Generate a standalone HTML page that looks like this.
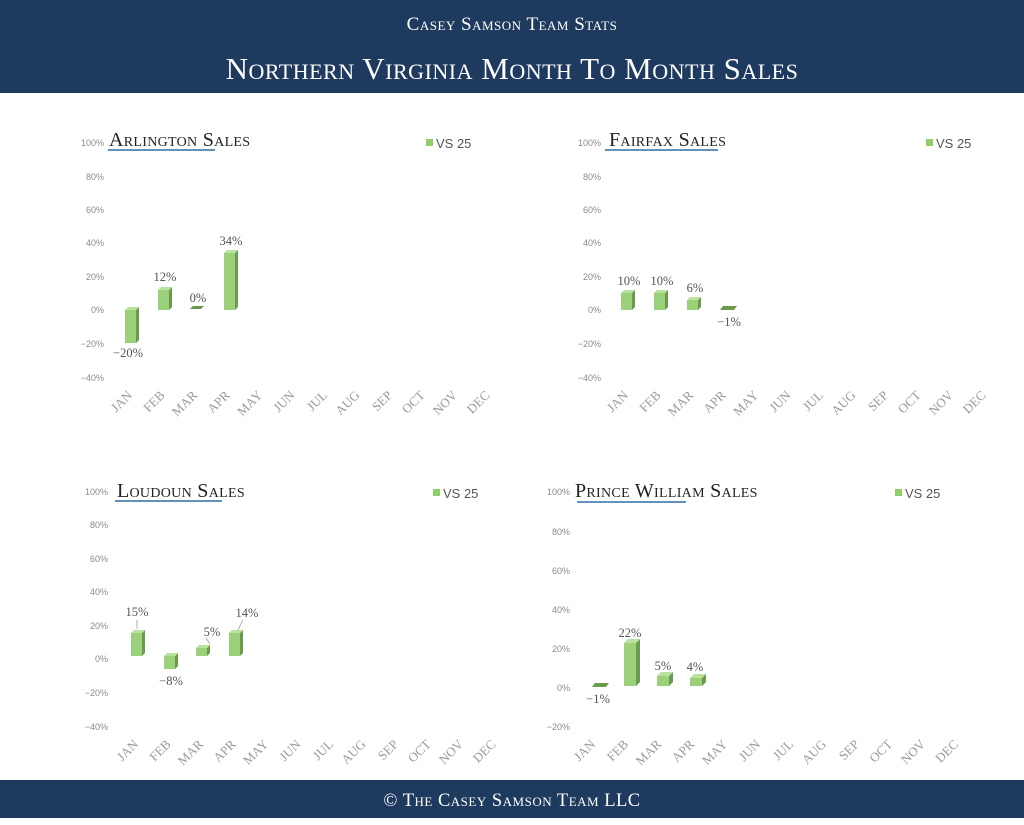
<!DOCTYPE html>
<html><head><meta charset="utf-8"><style>
html,body{margin:0;padding:0;background:#fff;}
svg{display:block;}
.t{font-family:"Liberation Serif",serif;}
.ax{font-family:"Liberation Sans",sans-serif;font-size:9px;fill:#8a8a8a;text-anchor:end;}
.m{font-family:"Liberation Serif",serif;font-size:13px;fill:#999;text-anchor:end;}
.dl{font-family:"Liberation Serif",serif;font-size:12.5px;fill:#555;text-anchor:middle;}
.ti{font-family:"Liberation Serif",serif;font-size:20px;fill:#222;font-variant:small-caps;letter-spacing:0.3px;}
.lg{font-family:"Liberation Sans",sans-serif;font-size:13px;fill:#555;}
.f{fill:#9bd17a}.s{fill:#6a9a4e}.tp{fill:#b9e29e}
</style></head><body>
<svg width="1024" height="825" viewBox="0 0 1024 825" xmlns="http://www.w3.org/2000/svg">
<rect x="0" y="0" width="1024" height="93" fill="#1e3a5f"/>
<text x="512" y="30" text-anchor="middle" class="t" fill="#fff" font-size="19" style="font-variant:small-caps;letter-spacing:0.5px">Casey Samson Team Stats</text>
<text x="512" y="79" text-anchor="middle" class="t" fill="#fff" font-size="31" style="font-variant:small-caps;letter-spacing:0.5px">Northern Virginia Month To Month Sales</text>
<rect x="0" y="780" width="1024" height="38" fill="#1e3a5f"/>
<text x="512" y="806" text-anchor="middle" class="t" fill="#fff" font-size="18.5" style="font-variant:small-caps;letter-spacing:0.5px">© The Casey Samson Team LLC</text>

<!-- Arlington -->
<text x="109" y="146" class="ti">Arlington Sales</text>
<line x1="108" y1="150" x2="215" y2="150" stroke="#2e6da4" stroke-width="1.5"/>
<rect x="426" y="139" width="7" height="7" fill="#8fcf6a"/><text x="436" y="148" class="lg">VS 25</text>
<g class="ax"><text x="104" y="146">100%</text><text x="104" y="180">80%</text><text x="104" y="213">60%</text><text x="104" y="246">40%</text><text x="104" y="280">20%</text><text x="104" y="313">0%</text><text x="104" y="347">−20%</text><text x="104" y="381">−40%</text></g>
<g>
<rect class="f" x="125" y="310" width="11" height="33"/><polygon class="s" points="136,310 139,307 139,340 136,343"/><polygon class="tp" points="125,310 128,307 139,307 136,310"/>
<rect class="f" x="158" y="290" width="11" height="20"/><polygon class="s" points="169,290 172,287 172,307 169,310"/><polygon class="tp" points="158,290 161,287 172,287 169,290"/>
<polygon class="s" points="190,309 193,306 204,306 201,309"/>
<rect class="f" x="224" y="253" width="11" height="57"/><polygon class="s" points="235,253 238,250 238,307 235,310"/><polygon class="tp" points="224,253 227,250 238,250 235,253"/>
</g>
<g class="dl"><text x="128" y="357">−20%</text><text x="165" y="281">12%</text><text x="198" y="302">0%</text><text x="231" y="245">34%</text></g>
<g class="m">
<text transform="translate(133,396) rotate(-45)">JAN</text><text transform="translate(165.5,396) rotate(-45)">FEB</text><text transform="translate(198,396) rotate(-45)">MAR</text><text transform="translate(230.5,396) rotate(-45)">APR</text><text transform="translate(263,396) rotate(-45)">MAY</text><text transform="translate(295.5,396) rotate(-45)">JUN</text><text transform="translate(328,396) rotate(-45)">JUL</text><text transform="translate(360.5,396) rotate(-45)">AUG</text><text transform="translate(393,396) rotate(-45)">SEP</text><text transform="translate(425.5,396) rotate(-45)">OCT</text><text transform="translate(458,396) rotate(-45)">NOV</text><text transform="translate(490.5,396) rotate(-45)">DEC</text>
</g>

<!-- Fairfax -->
<text x="609" y="146" class="ti">Fairfax Sales</text>
<line x1="605" y1="150" x2="718" y2="150" stroke="#2e6da4" stroke-width="1.5"/>
<rect x="926" y="139" width="7" height="7" fill="#8fcf6a"/><text x="936" y="148" class="lg">VS 25</text>
<g class="ax"><text x="601" y="146">100%</text><text x="601" y="180">80%</text><text x="601" y="213">60%</text><text x="601" y="246">40%</text><text x="601" y="280">20%</text><text x="601" y="313">0%</text><text x="601" y="347">−20%</text><text x="601" y="381">−40%</text></g>
<g>
<rect class="f" x="621" y="293" width="11" height="17"/><polygon class="s" points="632,293 635,290 635,307 632,310"/><polygon class="tp" points="621,293 624,290 635,290 632,293"/>
<rect class="f" x="654" y="293" width="11" height="17"/><polygon class="s" points="665,293 668,290 668,307 665,310"/><polygon class="tp" points="654,293 657,290 668,290 665,293"/>
<rect class="f" x="687" y="300" width="11" height="10"/><polygon class="s" points="698,300 701,297 701,307 698,310"/><polygon class="tp" points="687,300 690,297 701,297 698,300"/>
<polygon class="s" points="720,310 723,306 737,306 734,310"/>
</g>
<g class="dl"><text x="629" y="285">10%</text><text x="662" y="285">10%</text><text x="695" y="292">6%</text><text x="729" y="326">−1%</text></g>
<g class="m">
<text transform="translate(629,396) rotate(-45)">JAN</text><text transform="translate(661.5,396) rotate(-45)">FEB</text><text transform="translate(694,396) rotate(-45)">MAR</text><text transform="translate(726.5,396) rotate(-45)">APR</text><text transform="translate(759,396) rotate(-45)">MAY</text><text transform="translate(791.5,396) rotate(-45)">JUN</text><text transform="translate(824,396) rotate(-45)">JUL</text><text transform="translate(856.5,396) rotate(-45)">AUG</text><text transform="translate(889,396) rotate(-45)">SEP</text><text transform="translate(921.5,396) rotate(-45)">OCT</text><text transform="translate(954,396) rotate(-45)">NOV</text><text transform="translate(986.5,396) rotate(-45)">DEC</text>
</g>

<!-- Loudoun -->
<text x="117" y="497" class="ti">Loudoun Sales</text>
<line x1="115" y1="501" x2="222" y2="501" stroke="#2e6da4" stroke-width="1.5"/>
<rect x="433" y="489" width="7" height="7" fill="#8fcf6a"/><text x="443" y="498" class="lg">VS 25</text>
<g class="ax"><text x="108" y="495">100%</text><text x="108" y="528">80%</text><text x="108" y="562">60%</text><text x="108" y="595">40%</text><text x="108" y="629">20%</text><text x="108" y="662">0%</text><text x="108" y="696">−20%</text><text x="108" y="730">−40%</text></g>
<g>
<rect class="f" x="131" y="633" width="11" height="23"/><polygon class="s" points="142,633 145,630 145,653 142,656"/><polygon class="tp" points="131,633 134,630 145,630 142,633"/>
<rect class="f" x="164" y="656" width="11" height="13"/><polygon class="s" points="175,656 178,653 178,666 175,669"/><polygon class="tp" points="164,656 167,653 178,653 175,656"/>
<rect class="f" x="196" y="648" width="11" height="8"/><polygon class="s" points="207,648 210,645 210,653 207,656"/><polygon class="tp" points="196,648 199,645 210,645 207,648"/>
<rect class="f" x="229" y="633" width="11" height="23"/><polygon class="s" points="240,633 243,630 243,653 240,656"/><polygon class="tp" points="229,633 232,630 243,630 240,633"/>
</g>
<g stroke="#999" stroke-width="0.8"><line x1="137" y1="620" x2="137" y2="629"/><line x1="206" y1="638" x2="210" y2="644"/><line x1="243" y1="620" x2="238" y2="630"/></g>
<g class="dl"><text x="137" y="616">15%</text><text x="171" y="685">−8%</text><text x="212" y="636">5%</text><text x="247" y="617">14%</text></g>
<g class="m">
<text transform="translate(139,745) rotate(-45)">JAN</text><text transform="translate(171.5,745) rotate(-45)">FEB</text><text transform="translate(204,745) rotate(-45)">MAR</text><text transform="translate(236.5,745) rotate(-45)">APR</text><text transform="translate(269,745) rotate(-45)">MAY</text><text transform="translate(301.5,745) rotate(-45)">JUN</text><text transform="translate(334,745) rotate(-45)">JUL</text><text transform="translate(366.5,745) rotate(-45)">AUG</text><text transform="translate(399,745) rotate(-45)">SEP</text><text transform="translate(431.5,745) rotate(-45)">OCT</text><text transform="translate(464,745) rotate(-45)">NOV</text><text transform="translate(496.5,745) rotate(-45)">DEC</text>
</g>

<!-- Prince William -->
<text x="575" y="497" class="ti">Prince William Sales</text>
<line x1="577" y1="502" x2="686" y2="502" stroke="#2e6da4" stroke-width="1.5"/>
<rect x="895" y="489" width="7" height="7" fill="#8fcf6a"/><text x="905" y="498" class="lg">VS 25</text>
<g class="ax"><text x="570" y="495">100%</text><text x="570" y="535">80%</text><text x="570" y="574">60%</text><text x="570" y="613">40%</text><text x="570" y="652">20%</text><text x="570" y="691">0%</text><text x="570" y="730">−20%</text></g>
<g>
<polygon class="s" points="592,687 595,683 609,683 606,687"/>
<rect class="f" x="624" y="643" width="12" height="43"/><polygon class="s" points="636,643 640,639 640,682 636,686"/><polygon class="tp" points="624,643 628,639 640,639 636,643"/>
<rect class="f" x="657" y="676" width="12" height="10"/><polygon class="s" points="669,676 673,672 673,682 669,686"/><polygon class="tp" points="657,676 661,672 673,672 669,676"/>
<rect class="f" x="690" y="678" width="12" height="8"/><polygon class="s" points="702,678 706,674 706,682 702,686"/><polygon class="tp" points="690,678 694,674 706,674 702,678"/>
</g>
<g class="dl"><text x="598" y="703">−1%</text><text x="630" y="637">22%</text><text x="663" y="670">5%</text><text x="695" y="671">4%</text></g>
<g class="m">
<text transform="translate(596,745) rotate(-45)">JAN</text><text transform="translate(629,745) rotate(-45)">FEB</text><text transform="translate(662,745) rotate(-45)">MAR</text><text transform="translate(695,745) rotate(-45)">APR</text><text transform="translate(728,745) rotate(-45)">MAY</text><text transform="translate(761,745) rotate(-45)">JUN</text><text transform="translate(794,745) rotate(-45)">JUL</text><text transform="translate(827,745) rotate(-45)">AUG</text><text transform="translate(860,745) rotate(-45)">SEP</text><text transform="translate(893,745) rotate(-45)">OCT</text><text transform="translate(926,745) rotate(-45)">NOV</text><text transform="translate(959,745) rotate(-45)">DEC</text>
</g>
</svg>
</body></html>
